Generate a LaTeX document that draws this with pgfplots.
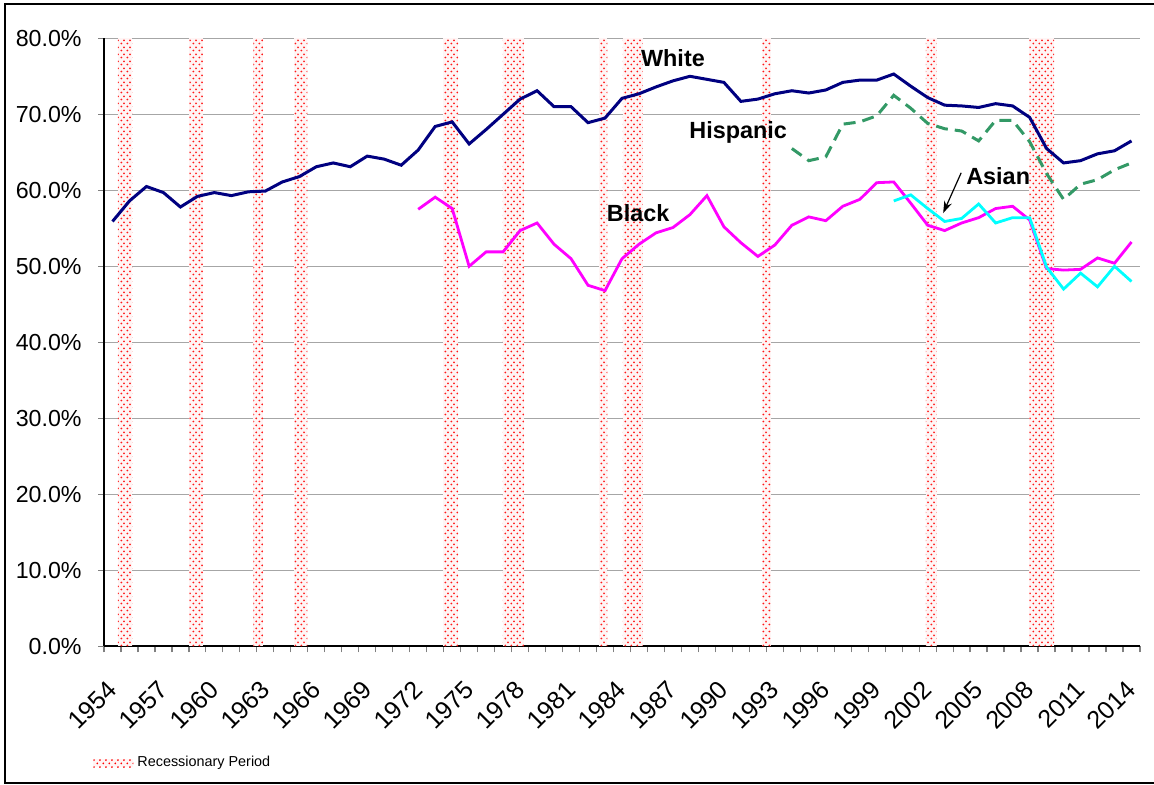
\documentclass[border=0pt]{standalone}
\usepackage{pgfplots}
\pgfplotsset{compat=1.18}
\usepackage{pgfplotstable}
\usepackage{fontspec}
\setmainfont{Liberation Sans}
\usetikzlibrary{patterns, arrows.meta}
\definecolor{navyc}{RGB}{0,0,128}
\definecolor{magc}{RGB}{255,0,255}
\definecolor{cyanc}{RGB}{0,255,255}
\definecolor{hispc}{RGB}{51,153,102}
\pgfdeclarepatternformonly{recdots}{\pgfqpoint{0pt}{0pt}}{\pgfqpoint{3pt}{3.3pt}}{\pgfqpoint{3pt}{3.3pt}}{%
 \pgfpathcircle{\pgfqpoint{0.75pt}{0.8pt}}{0.52pt}%
 \pgfpathcircle{\pgfqpoint{2.25pt}{2.45pt}}{0.52pt}%
 \pgfusepath{fill}}

\pgfplotstableread{
year val
1954 55.9
1955 58.6
1956 60.5
1957 59.7
1958 57.8
1959 59.2
1960 59.7
1961 59.3
1962 59.8
1963 59.9
1964 61.1
1965 61.8
1966 63.1
1967 63.6
1968 63.1
1969 64.5
1970 64.1
1971 63.3
1972 65.3
1973 68.4
1974 69.0
1975 66.1
1976 68.0
1977 70.0
1978 72.0
1979 73.1
1980 71.0
1981 71.0
1982 68.9
1983 69.5
1984 72.1
1985 72.7
1986 73.6
1987 74.4
1988 75.0
1989 74.6
1990 74.2
1991 71.7
1992 72.0
1993 72.7
1994 73.1
1995 72.8
1996 73.2
1997 74.2
1998 74.5
1999 74.5
2000 75.3
2001 73.7
2002 72.2
2003 71.2
2004 71.1
2005 70.9
2006 71.4
2007 71.1
2008 69.6
2009 65.5
2010 63.6
2011 63.9
2012 64.8
2013 65.2
2014 66.5
}\whitetab

\pgfplotstableread{
year val
1994 65.5
1995 63.9
1996 64.4
1997 68.7
1998 69.0
1999 69.8
2000 72.5
2001 70.8
2002 68.8
2003 68.1
2004 67.8
2005 66.5
2006 69.2
2007 69.2
2008 66.4
2009 62.2
2010 58.8
2011 60.8
2012 61.4
2013 62.7
2014 63.6
}\hisptab

\pgfplotstableread{
year val
1972 57.5
1973 59.1
1974 57.6
1975 50.0
1976 51.9
1977 51.9
1978 54.7
1979 55.7
1980 52.9
1981 51.0
1982 47.5
1983 46.8
1984 51.0
1985 52.9
1986 54.4
1987 55.1
1988 56.8
1989 59.3
1990 55.2
1991 53.1
1992 51.3
1993 52.8
1994 55.4
1995 56.5
1996 56.0
1997 57.9
1998 58.8
1999 61.0
2000 61.1
2001 58.3
2002 55.4
2003 54.7
2004 55.7
2005 56.4
2006 57.6
2007 57.9
2008 56.1
2009 49.7
2010 49.5
2011 49.6
2012 51.1
2013 50.4
2014 53.2
}\blacktab

\pgfplotstableread{
year val
2000 58.6
2001 59.4
2002 57.6
2003 55.9
2004 56.3
2005 58.2
2006 55.7
2007 56.4
2008 56.4
2009 49.9
2010 47.0
2011 49.1
2012 47.3
2013 50.0
2014 48.0
}\asiantab

\tikzset{recband/.style={draw=none, preaction={fill=red!4}, pattern=recdots, pattern color=red!90}}

\begin{document}
\begin{tikzpicture}
\begin{axis}[
  at={(0pt,0pt)}, anchor=south west,
  scale only axis, width=518pt, height=304pt,
  xmin=1953.5, xmax=2014.5, ymin=0, ymax=80,
  axis x line*=bottom, axis y line*=left,
  axis line style={black, line width=0.8pt},
  tick align=outside,
  major tick length=3pt,
  tick style={gray, line width=0.6pt},
  xtick={1953.5,1954.5,...,2014.5},
  xticklabels={},
  extra x ticks={1954,1957,1960,1963,1966,1969,1972,1975,1978,1981,1984,1987,1990,1993,1996,1999,2002,2005,2008,2011,2014},
  extra x tick labels={1954,1957,1960,1963,1966,1969,1972,1975,1978,1981,1984,1987,1990,1993,1996,1999,2002,2005,2008,2011,2014},
  extra x tick style={tick style={draw=none}},
  xticklabel shift=16.5pt,
  xticklabel style={rotate=45, anchor=east, inner sep=0pt, font=\fontsize{12.5}{14}\selectfont},
  ytick={0,10,...,80},
  yticklabel={\pgfmathprintnumber[fixed, fixed zerofill, precision=1]{\tick}\%},
  /pgf/number format/assume math mode=true,
  yticklabel style={anchor=east, inner sep=0pt, xshift=-8pt, font=\fontsize{11.6}{13}\selectfont},
  ymajorgrids, grid style={gray!70, line width=0.7pt},
  legend style={at={(-0.0106,-0.192)}, anchor=west, draw=none, fill=none, inner sep=0pt,
    font=\fontsize{7.2}{9}\selectfont},
]
\addplot[recband,
  legend image code/.code={\fill[pattern=recdots, pattern color=red] (0pt,-2pt) rectangle (20pt,2pt);}]
  coordinates {(1954.31,0) (1954.31,80) (1955.17,80) (1955.17,0)} -- cycle;
\addlegendentry{Recessionary Period}
\addplot[forget plot, recband] coordinates {(1958.52,0) (1958.52,80) (1959.35,80) (1959.35,0)} -- cycle;
\addplot[forget plot, recband] coordinates {(1962.29,0) (1962.29,80) (1962.88,80) (1962.88,0)} -- cycle;
\addplot[forget plot, recband] coordinates {(1964.71,0) (1964.71,80) (1965.47,80) (1965.47,0)} -- cycle;
\addplot[forget plot, recband] coordinates {(1973.48,0) (1973.48,80) (1974.37,80) (1974.37,0)} -- cycle;
\addplot[forget plot, recband] coordinates {(1976.98,0) (1976.98,80) (1978.25,80) (1978.25,0)} -- cycle;
\addplot[forget plot, recband] coordinates {(1982.65,0) (1982.65,80) (1983.14,80) (1983.14,0)} -- cycle;
\addplot[forget plot, recband] coordinates {(1984.05,0) (1984.05,80) (1985.23,80) (1985.23,0)} -- cycle;
\addplot[forget plot, recband] coordinates {(1992.23,0) (1992.23,80) (1992.76,80) (1992.76,0)} -- cycle;
\addplot[forget plot, recband] coordinates {(2001.89,0) (2001.89,80) (2002.53,80) (2002.53,0)} -- cycle;
\addplot[forget plot, recband] coordinates {(2007.99,0) (2007.99,80) (2009.44,80) (2009.44,0)} -- cycle;

\addplot[forget plot, navyc, line width=1.5pt] table[x=year, y=val] {\whitetab};
\addplot[forget plot, hispc, line width=1.5pt, dash pattern=on 6pt off 3.5pt] table[x=year, y=val] {\hisptab};
\addplot[forget plot, magc, line width=1.4pt] table[x=year, y=val] {\blacktab};
\addplot[forget plot, cyanc, line width=1.4pt] table[x=year, y=val] {\asiantab};

\node[font=\bfseries\fontsize{11.7}{14}\selectfont] at (axis cs:1987.0,77.4) {White};
\node[font=\bfseries\fontsize{11.7}{14}\selectfont] at (axis cs:1990.84,67.6) {Hispanic};
\node[font=\bfseries\fontsize{11.7}{14}\selectfont] at (axis cs:1984.95,57.0) {Black};
\node[font=\bfseries\fontsize{11.7}{14}\selectfont] at (axis cs:2006.15,61.9) {Asian};
\draw[-{Stealth[length=6pt,width=4pt]}, line width=0.6pt] (axis cs:2003.97,62.3) -- (axis cs:2002.91,57.0);
\fill[navyc] (axis description cs:0.2228,-0.195) rectangle (axis description cs:0.2246,-0.189);
\end{axis}
\draw[line width=1pt] (525pt,321.15pt) -- (-49.5pt,321.15pt) -- (-49.5pt,-68.35pt) -- (525pt,-68.35pt);
\pgfresetboundingbox
\path (-52pt,-69.35pt) rectangle (525pt,323.15pt);
\end{tikzpicture}
\end{document}
